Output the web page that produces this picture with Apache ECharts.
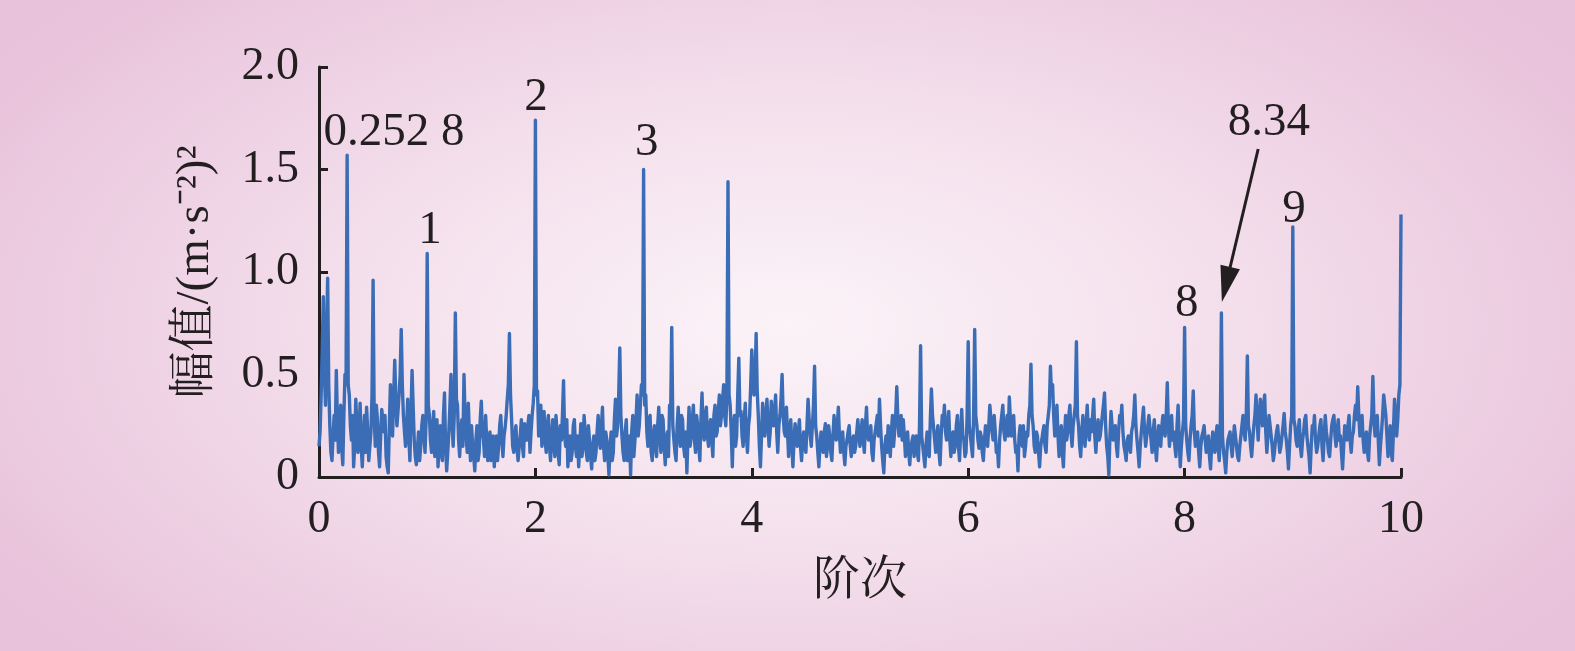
<!DOCTYPE html>
<html>
<head>
<meta charset="utf-8">
<script src="https://cdn.jsdelivr.net/npm/echarts@6/dist/echarts.min.js"></script>
<style>
html,body{margin:0;padding:0;width:1575px;height:651px;overflow:hidden;
background: radial-gradient(ellipse 60% 75% at 50% 50%, #FBF3F8 0%, #F4E0EC 45%, #ECCCE1 80%, #E8C1DA 100%);}
#chart{width:1575px;height:651px;}
</style>
</head>
<body>
<div id="chart"></div>
<script>
// sampling: values on even hundredths (u arrays) and odd hundredths (m arrays)
const step = 0.02;
const half = 0.01;
// amplitude at orders k + 0.02*j
const u0 = [0.15,0.40,0.88,0.35,0.97,0.25,0.08,0.30,0.52,0.12,
            0.35,0.06,0.50,1.57,0.40,0.18,0.05,0.38,0.12,0.36,
            0.05,0.30,0.34,0.08,0.22,0.96,0.15,0.28,0.05,0.33,
            0.22,0.10,0.02,0.45,0.20,0.57,0.25,0.40,0.72,0.30,
            0.15,0.38,0.08,0.52,0.18,0.06,0.22,0.15,0.30,0.12];
const u1 = [1.09,0.30,0.12,0.32,0.18,0.05,0.25,0.08,0.41,0.03,
            0.22,0.50,0.15,0.80,0.35,0.10,0.28,0.50,0.20,0.36,
            0.08,0.15,0.03,0.25,0.12,0.37,0.18,0.30,0.08,0.22,
            0.12,0.05,0.20,0.15,0.30,0.10,0.24,0.38,0.70,0.28,
            0.12,0.25,0.08,0.20,0.15,0.26,0.18,0.30,0.22,0.36];
const u2 = [1.74,0.42,0.28,0.15,0.32,0.12,0.30,0.08,0.28,0.10,
            0.22,0.06,0.18,0.47,0.15,0.05,0.20,0.12,0.28,0.10,
            0.05,0.26,0.15,0.22,0.08,0.18,0.04,0.20,0.12,0.30,
            0.14,0.34,0.08,0.18,0.01,0.22,0.12,0.38,0.25,0.63,
            0.20,0.08,0.28,0.15,0.01,0.30,0.18,0.40,0.25,0.45];
const u3 = [1.50,0.40,0.15,0.30,0.08,0.25,0.10,0.34,0.12,0.28,
            0.06,0.22,0.35,0.73,0.18,0.08,0.34,0.15,0.28,0.10,
            0.02,0.34,0.20,0.35,0.12,0.25,0.08,0.41,0.18,0.34,
            0.15,0.28,0.10,0.35,0.22,0.40,0.30,0.45,0.25,1.44,
            0.35,0.05,0.30,0.20,0.58,0.32,0.15,0.36,0.12,0.30];
const u4 = [0.62,0.40,0.70,0.30,0.05,0.36,0.20,0.38,0.15,0.37,
            0.25,0.40,0.12,0.30,0.50,0.22,0.34,0.10,0.28,0.05,
            0.26,0.15,0.28,0.08,0.22,0.12,0.38,0.20,0.25,0.54,
            0.20,0.05,0.22,0.12,0.26,0.15,0.20,0.08,0.30,0.18,
            0.34,0.12,0.22,0.06,0.18,0.25,0.10,0.20,0.15,0.28];
const u5 = [0.15,0.28,0.12,0.34,0.18,0.25,0.08,0.22,0.30,0.38,
            0.15,0.02,0.20,0.25,0.10,0.30,0.22,0.44,0.20,0.30,
            0.28,0.10,0.22,0.06,0.15,0.10,0.20,0.08,0.64,0.15,
            0.05,0.22,0.10,0.43,0.30,0.12,0.25,0.06,0.30,0.35,
            0.18,0.32,0.10,0.22,0.15,0.30,0.08,0.33,0.18,0.12];
const u6 = [0.66,0.20,0.10,0.72,0.25,0.14,0.20,0.08,0.25,0.15,
            0.35,0.22,0.30,0.12,0.05,0.25,0.35,0.18,0.30,0.39,
            0.20,0.30,0.12,0.03,0.25,0.15,0.10,0.22,0.30,0.55,
            0.25,0.12,0.20,0.05,0.18,0.25,0.12,0.30,0.54,0.45,
            0.20,0.35,0.10,0.25,0.05,0.30,0.22,0.35,0.15,0.30];
const u7 = [0.66,0.25,0.10,0.30,0.15,0.35,0.18,0.22,0.38,0.12,
            0.28,0.20,0.30,0.41,0.15,0.01,0.32,0.18,0.25,0.10,
            0.30,0.35,0.15,0.08,0.20,0.12,0.25,0.40,0.18,0.05,
            0.22,0.34,0.15,0.25,0.30,0.12,0.28,0.08,0.25,0.15,
            0.30,0.20,0.46,0.15,0.30,0.22,0.10,0.35,0.05,0.22];
const u8 = [0.73,0.18,0.08,0.25,0.42,0.15,0.22,0.05,0.20,0.25,
            0.12,0.20,0.04,0.22,0.12,0.25,0.08,0.80,0.12,0.02,
            0.18,0.22,0.10,0.25,0.15,0.08,0.20,0.30,0.18,0.59,
            0.22,0.10,0.25,0.40,0.18,0.38,0.25,0.40,0.12,0.30,
            0.20,0.08,0.18,0.25,0.12,0.20,0.31,0.18,0.04,0.25];
const u9 = [1.22,0.25,0.15,0.28,0.10,0.22,0.30,0.15,0.02,0.25,
            0.30,0.12,0.20,0.28,0.08,0.30,0.18,0.10,0.25,0.30,
            0.15,0.28,0.20,0.04,0.25,0.18,0.30,0.12,0.22,0.35,
            0.44,0.20,0.30,0.12,0.22,0.08,0.25,0.49,0.20,0.30,
            0.06,0.22,0.40,0.30,0.10,0.25,0.08,0.38,0.20,0.40];
// amplitude at orders k + 0.01 + 0.02*j
const m0 = [0.22,0.62,0.50,0.70,0.45,0.12,0.20,0.18,0.28,0.20,
            0.14,0.30,0.45,0.45,0.25,0.30,0.15,0.25,0.22,0.15,
            0.18,0.12,0.22,0.15,0.40,0.30,0.35,0.12,0.20,0.28,
            0.30,0.05,0.25,0.28,0.40,0.38,0.32,0.50,0.45,0.22,
            0.25,0.20,0.30,0.35,0.10,0.14,0.08,0.25,0.20,0.28];
const m1 = [0.35,0.18,0.25,0.10,0.28,0.15,0.12,0.30,0.15,0.12,
            0.35,0.25,0.30,0.38,0.18,0.22,0.15,0.30,0.12,0.20,
            0.25,0.10,0.18,0.08,0.28,0.22,0.10,0.18,0.15,0.08,
            0.20,0.15,0.08,0.25,0.18,0.20,0.30,0.45,0.40,0.15,
            0.20,0.14,0.15,0.28,0.10,0.20,0.25,0.12,0.30,0.45];
const m2 = [0.40,0.20,0.35,0.22,0.18,0.25,0.15,0.20,0.15,0.30,
            0.12,0.25,0.30,0.20,0.28,0.15,0.08,0.25,0.15,0.20,
            0.15,0.10,0.30,0.12,0.25,0.10,0.15,0.08,0.22,0.18,
            0.25,0.15,0.22,0.10,0.15,0.08,0.28,0.20,0.40,0.30,
            0.12,0.22,0.08,0.20,0.22,0.10,0.28,0.20,0.35,0.40];
const m3 = [0.35,0.22,0.28,0.12,0.20,0.15,0.25,0.20,0.30,0.15,
            0.18,0.10,0.30,0.25,0.12,0.25,0.20,0.30,0.15,0.22,
            0.20,0.15,0.28,0.18,0.30,0.15,0.28,0.22,0.30,0.20,
            0.25,0.18,0.30,0.20,0.32,0.25,0.38,0.30,0.40,0.40,
            0.22,0.25,0.15,0.40,0.30,0.20,0.28,0.20,0.25,0.45];
const m4 = [0.50,0.45,0.42,0.15,0.20,0.28,0.30,0.25,0.22,0.30,
            0.32,0.22,0.25,0.38,0.30,0.20,0.22,0.20,0.15,0.18,
            0.20,0.22,0.15,0.18,0.15,0.25,0.28,0.15,0.35,0.25,
            0.12,0.15,0.18,0.22,0.10,0.25,0.12,0.20,0.22,0.25,
            0.20,0.18,0.12,0.15,0.22,0.15,0.18,0.12,0.22,0.20];
const m5 = [0.22,0.18,0.25,0.20,0.22,0.12,0.18,0.26,0.20,0.25,
            0.08,0.15,0.12,0.18,0.22,0.15,0.30,0.28,0.25,0.18,
            0.20,0.18,0.12,0.15,0.20,0.18,0.12,0.25,0.20,0.10,
            0.15,0.12,0.28,0.30,0.18,0.20,0.12,0.20,0.25,0.22,
            0.25,0.18,0.20,0.12,0.25,0.15,0.22,0.20,0.10,0.30];
const m6 = [0.25,0.15,0.30,0.30,0.18,0.22,0.12,0.18,0.20,0.25,
            0.28,0.18,0.22,0.15,0.18,0.30,0.22,0.25,0.20,0.28,
            0.25,0.18,0.15,0.20,0.18,0.25,0.15,0.20,0.35,0.30,
            0.15,0.22,0.12,0.15,0.22,0.15,0.25,0.35,0.40,0.30,
            0.25,0.20,0.18,0.12,0.20,0.18,0.30,0.22,0.25,0.35];
const m7 = [0.30,0.15,0.22,0.20,0.25,0.22,0.28,0.30,0.20,0.22,
            0.18,0.25,0.35,0.25,0.10,0.20,0.25,0.22,0.15,0.22,
            0.28,0.22,0.12,0.18,0.15,0.22,0.30,0.25,0.12,0.15,
            0.28,0.22,0.20,0.30,0.18,0.22,0.15,0.18,0.20,0.25,
            0.22,0.30,0.25,0.22,0.18,0.15,0.25,0.18,0.15,0.28];
const m8 = [0.25,0.12,0.18,0.30,0.22,0.18,0.12,0.15,0.22,0.18,
            0.15,0.10,0.15,0.18,0.20,0.15,0.22,0.20,0.08,0.12,
            0.20,0.15,0.18,0.20,0.10,0.15,0.25,0.22,0.30,0.25,
            0.15,0.18,0.30,0.28,0.30,0.32,0.35,0.22,0.20,0.25,
            0.15,0.12,0.22,0.18,0.15,0.25,0.22,0.12,0.15,0.30];
const m9 = [0.28,0.18,0.22,0.15,0.18,0.28,0.20,0.10,0.15,0.22,
            0.18,0.15,0.25,0.15,0.20,0.22,0.12,0.18,0.28,0.20,
            0.22,0.18,0.12,0.15,0.22,0.25,0.18,0.20,0.30,0.28,
            0.30,0.25,0.18,0.15,0.12,0.20,0.30,0.28,0.25,0.18,
            0.15,0.30,0.35,0.20,0.18,0.12,0.22,0.30,0.28,0.45];
const lastValue = 1.28; // value at order 10

// axis ticks
const xTicks = [0, 2, 4, 6, 8, 10];
const yTicks = ['0', '0.5', '1.0', '1.5', '2.0'];

// annotation texts and their anchor points (data coordinates, text centre)
const annoText = ['0.252 8', '1', '2', '3', '8', '9', '8.34'];
const annoX    = [0.693, 1.026, 2.005, 3.03, 8.02, 9.01, 8.78];
const annoY    = [1.678, 1.20, 1.849, 1.629, 0.844, 1.302, 1.727];
// arrow from label 8.34 towards the 8.34 peak
const arrowFrom = [8.68, 1.60];
const arrowTo   = [8.383, 0.939];

const evenSets = [u0,u1,u2,u3,u4,u5,u6,u7,u8,u9];
const oddSets  = [m0,m1,m2,m3,m4,m5,m6,m7,m8,m9];
const lineData = [];
evenSets.forEach((arr, k) => arr.forEach((v, j) => {
  lineData.push([+(k + j * step).toFixed(2), v]);
  lineData.push([+(k + half + j * step).toFixed(2), oddSets[k][j]]);
}));
lineData.push([10, lastValue]);

const annoData = annoText.map((t, i) => [annoX[i], annoY[i], t]);

const serif = "'Liberation Serif','Times New Roman','Noto Serif CJK SC','Noto Sans CJK SC',serif";
const ink = '#231F20';

const chart = echarts.init(document.getElementById('chart'), null, {renderer: 'canvas'});
chart.setOption({
  backgroundColor: 'transparent',
  animation: false,
  grid: {left: 319, right: 174, top: 67, bottom: 174, containLabel: false},
  xAxis: {
    type: 'value', min: 0, max: 10, interval: 2,
    name: '阶次', nameLocation: 'middle', nameGap: 81,
    nameTextStyle: {fontFamily: serif, fontSize: 47, color: ink},
    axisLine: {show: true, onZero: false, lineStyle: {color: ink, width: 3}},
    axisTick: {show: true, inside: true, length: 9, lineStyle: {color: ink, width: 3},
               customValues: xTicks},
    axisLabel: {fontFamily: serif, fontSize: 46, color: ink, margin: 20,
                customValues: xTicks, formatter: v => String(v)},
    splitLine: {show: false}
  },
  yAxis: {
    type: 'value', min: 0, max: 2, interval: 0.5,
    name: '幅值/(m·s⁻²)²', nameLocation: 'middle', nameGap: 100, nameRotate: 90,
    nameTextStyle: {fontFamily: serif, fontSize: 47, color: ink},
    axisLine: {show: true, lineStyle: {color: ink, width: 3}},
    axisTick: {show: true, inside: true, length: 9, lineStyle: {color: ink, width: 3}},
    axisLabel: {fontFamily: serif, fontSize: 46, color: ink, margin: 20,
                formatter: v => yTicks[Math.round(v / 0.5)]},
    splitLine: {show: false}
  },
  series: [
    {
      type: 'line', data: lineData, showSymbol: false, symbol: 'none',
      lineStyle: {color: '#3A6DB6', width: 3.4, join: 'round'}, z: 3,
      markLine: {
        silent: true, symbol: ['none', 'triangle'], symbolSize: [20, 36],
        lineStyle: {color: ink, width: 3, type: 'solid'},
        label: {show: false}, emphasis: {disabled: true},
        data: [[{coord: arrowFrom}, {coord: arrowTo}]]
      }
    },
    {
      type: 'scatter', data: annoData, symbolSize: 0, silent: true, z: 4,
      itemStyle: {opacity: 1},
      label: {show: true, position: 'inside', formatter: p => p.data[2],
              fontFamily: serif, fontSize: 47, color: ink, opacity: 1}
    }
  ]
});
</script>
</body>
</html>
